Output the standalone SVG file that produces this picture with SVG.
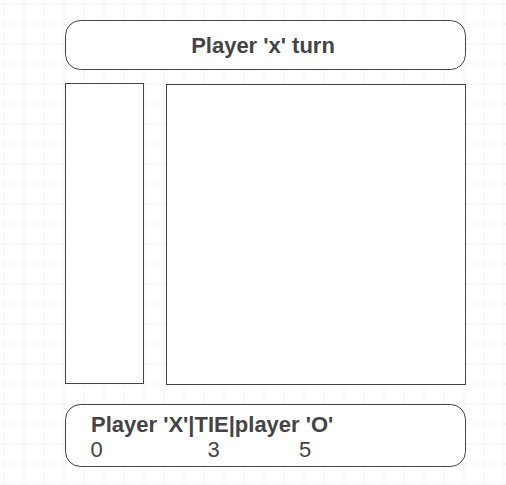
<svg xmlns="http://www.w3.org/2000/svg" width="506" height="485" viewBox="0 0 506 485">
  <defs>
    <pattern id="grid" x="3.5" y="3.5" width="20" height="20" patternUnits="userSpaceOnUse">
      <path d="M20 0 L0 0 L0 20" fill="none" stroke="#e6e6e6" stroke-width="1"/>
    </pattern>
    <style>
      .box { fill: #ffffff; stroke: #444444; stroke-width: 1; }
      .title { font-family: "Liberation Sans", Arial, sans-serif; font-size: 22px; font-weight: bold; fill: #444444; }
      .num { font-family: "Liberation Sans", Arial, sans-serif; font-size: 22px; fill: #444444; }
    </style>
  </defs>
  <rect width="506" height="485" fill="#ffffff"/>
  <rect x="-20" y="-20" width="546" height="525" fill="url(#grid)"/>

  <g id="turn-banner">
    <rect class="box" x="65.5" y="20.5" width="400" height="49" rx="15" ry="15"/>
    <text class="title" x="263" y="53" text-anchor="middle">Player 'x' turn</text>
  </g>

  <g id="side-panel">
    <rect class="box" x="65.5" y="83.5" width="78" height="300"/>
  </g>

  <g id="board">
    <rect class="box" x="166.5" y="84.5" width="299" height="300"/>
  </g>

  <g id="scoreboard">
    <rect class="box" x="65.5" y="404.5" width="400" height="62" rx="15" ry="15"/>
    <text class="title" x="91" y="431.5">Player 'X'|TIE|player 'O'</text>
    <text class="num" x="90.5" y="456.5">0</text>
    <text class="num" x="207.5" y="456.5">3</text>
    <text class="num" x="299" y="456.5">5</text>
  </g>

  <g id="connectors"/>
</svg>
